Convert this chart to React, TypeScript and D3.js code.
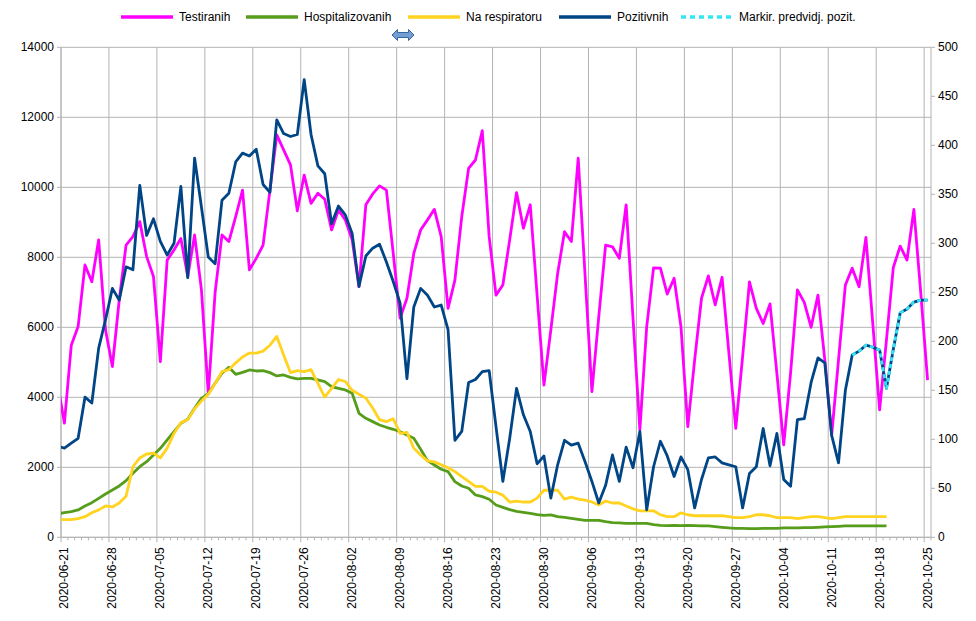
import React from 'react';
import * as d3 from 'd3';

// ---- DATA ----
// first value of each series belongs to 2020-06-20 (clipped at the left edge of the plot)
const seriesStart = '2020-06-20';
const firstCategory = '2020-06-21';
const lastCategory = '2020-10-25';

const xTickLabels = [
  '2020-06-21', '2020-06-28', '2020-07-05', '2020-07-12', '2020-07-19', '2020-07-26',
  '2020-08-02', '2020-08-09', '2020-08-16', '2020-08-23', '2020-08-30', '2020-09-06',
  '2020-09-13', '2020-09-20', '2020-09-27', '2020-10-04', '2020-10-11', '2020-10-18',
  '2020-10-25',
];

const leftTicks = [0, 2000, 4000, 6000, 8000, 10000, 12000, 14000];
const rightTicks = [0, 50, 100, 150, 200, 250, 300, 350, 400, 450, 500];

// left axis
const testiranih = [
  4400, 3260, 5490, 6020, 7780, 7300, 8500, 5920, 4880, 6780,
  8350, 8590, 9020, 8020, 7450, 5020, 7920, 8210, 8540, 7450,
  8640, 7070, 4110, 7000, 8640, 8450, 9160, 9920, 7640, 7970,
  8350, 9920, 11500, 11070, 10640, 9330, 10350, 9540, 9830, 9660,
  8780, 9350, 9070, 8500, 7160, 9500, 9810, 10040, 9920, 8110,
  6260, 6830, 8110, 8780, 9070, 9370, 8590, 6540, 7350, 9160,
  10540, 10780, 11620, 8590, 6920, 7210, 8500, 9850, 8830, 9500,
  6920, 4350, 5920, 7540, 8730, 8450, 10830, 7500, 4160, 6300,
  8350, 8300, 7970, 9500, 6260, 3070, 6020, 7700, 7690, 6950,
  7400, 6020, 3160, 5070, 6830, 7470, 6640, 7430, 5260, 3110,
  5160, 7300, 6540, 6110, 6670, 4690, 2640, 4690, 7070, 6710,
  6000, 6920, 5070, 2920, 5070, 7210, 7690, 7160, 8570, 6110,
  3640, 5640, 7710, 8320, 7920, 9370, 7000, 4490,
];

// left axis
const hospitalizovanih = [
  667, 705, 733, 781, 895, 990, 1114, 1238, 1352, 1467,
  1619, 1829, 2019, 2162, 2352, 2543, 2781, 3019, 3257, 3371,
  3686, 3971, 4105, 4400, 4686, 4857, 4657, 4714, 4781, 4752,
  4762, 4705, 4610, 4638, 4571, 4524, 4543, 4543, 4495, 4448,
  4305, 4257, 4210, 4114, 3543, 3400, 3305, 3210, 3143, 3086,
  3019, 2924, 2829, 2514, 2190, 2067, 1943, 1876, 1590, 1467,
  1400, 1210, 1162, 1086, 924, 857, 790, 743, 714, 686,
  648, 629, 638, 590, 571, 543, 514, 486, 486, 486,
  448, 419, 410, 400, 400, 400, 400, 362, 343, 333,
  343, 333, 343, 333, 324, 324, 305, 286, 267, 257,
  257, 248, 248, 257, 257, 257, 267, 267, 267, 276,
  276, 286, 295, 305, 314, 324, 324, 324, 324, 324,
  324, 324,
];

// right axis
const naRespiratoru = [
  18, 18, 18, 19, 21, 25, 28, 32, 31, 35,
  42, 72, 81, 85, 86, 81, 91, 106, 117, 120,
  131, 139, 146, 157, 169, 171, 178, 184, 188, 188,
  190, 196, 205, 186, 168, 170, 169, 171, 157, 143,
  152, 161, 159, 150, 146, 142, 132, 120, 118, 121,
  106, 107, 91, 84, 78, 77, 74, 71, 67, 62,
  57, 52, 52, 47, 46, 43, 36, 37, 36, 36,
  40, 48, 48, 48, 39, 41, 39, 38, 36, 33,
  37, 35, 35, 32, 29, 27, 27, 27, 23, 21,
  21, 25, 23, 22, 22, 22, 22, 22, 21, 20,
  20, 21, 23, 23, 22, 20, 20, 20, 19, 20,
  21, 21, 20, 19, 20, 21, 21, 21, 21, 21,
  21, 21,
];

// right axis
const pozitivnih = [
  93, 91, 96, 101, 143, 137, 193, 222, 254, 242,
  276, 273, 359, 308, 325, 302, 288, 300, 358, 265,
  387, 337, 286, 279, 344, 351, 383, 392, 389, 396,
  360, 352, 426, 412, 409, 411, 467, 411, 379, 371,
  320, 338, 329, 310, 256, 287, 295, 299, 281, 261,
  239, 162, 235, 254, 247, 235, 237, 212, 99, 108,
  158, 161, 169, 170, 113, 57, 101, 152, 125, 108,
  75, 83, 40, 74, 99, 94, 96, 77, 57, 35,
  53, 84, 57, 92, 71, 108, 28, 72, 98, 83,
  62, 82, 69, 30, 59, 81, 82, 76, 74, 72,
  30, 65, 72, 111, 73, 106, 59, 52, 120, 121,
  158, 183, 178, 104, 76, 150, 186, 190, 196, 194,
  191, 152, 192, 229, 233, 240, 242, 242,
];

// right axis, starts 2020-10-14
const markirStart = '2020-10-14';
const markirPredvidj = [186, 190, 196, 194, 191, 152, 192, 229, 233, 240, 242, 242];

// ---- LAYOUT ----
const W = 976;
const H = 621;
const PL = 61;
const PR = 931;
const PT = 47.3;
const PB = 537.3;
const FONT = '"Liberation Sans", Arial, sans-serif';
const GRID = '#b3b3b3';

const COLORS = {
  testiranih: '#ff00ff',
  hosp: '#579d1c',
  resp: '#ffd320',
  poz: '#004586',
  markir: '#33e6f5',
};

const legendItems = [
  { label: 'Testiranih', color: COLORS.testiranih, x: 121, dash: '' },
  { label: 'Hospitalizovanih', color: COLORS.hosp, x: 246, dash: '' },
  { label: 'Na respiratoru', color: COLORS.resp, x: 408, dash: '' },
  { label: 'Pozitivnih', color: COLORS.poz, x: 559, dash: '' },
  { label: 'Markir. predvidj. pozit.', color: COLORS.markir, x: 681, dash: '5 4' },
];

export default function App() {
  const parse = d3.timeParse('%Y-%m-%d');
  const d0 = parse(firstCategory)!;
  const dEnd = parse(lastCategory)!;
  const nCat = d3.timeDay.count(d0, dEnd) + 1;
  const offset = (s: string) => d3.timeDay.count(d0, parse(s)!);

  const x = d3.scaleLinear().domain([0, nCat]).range([PL, PR]);
  const yL = d3.scaleLinear().domain([0, 14000]).range([PB, PT]);
  const yR = d3.scaleLinear().domain([0, 500]).range([PB, PT]);

  const mkLine = (startStr: string, y: d3.ScaleLinear<number, number>) => {
    const s = offset(startStr);
    return d3
      .line<number>()
      .x((_, k) => x(s + k + 0.5))
      .y((d) => y(d))
      .curve(d3.curveLinear);
  };

  const dayTicks = d3.range(0, nCat + 1);
  const weekTicks = xTickLabels.map((l) => offset(l));

  return (
    <svg
      width={W}
      height={H}
      viewBox={`0 0 ${W} ${H}`}
      style={{ position: 'absolute', left: 0, top: 0, background: '#fff', fontFamily: FONT }}
    >
      <defs>
        <clipPath id="plotClip">
          <rect x={PL} y={0} width={PR - PL} height={H} />
        </clipPath>
      </defs>
      <rect x={0} y={0} width={W} height={H} fill="#fff" />

      {/* horizontal grid */}
      {leftTicks.map((t) => (
        <line key={'hg' + t} x1={PL} x2={PR} y1={yL(t)} y2={yL(t)} stroke={GRID} strokeWidth={1} />
      ))}
      {/* vertical grid */}
      {weekTicks.map((t) => (
        <line key={'vg' + t} x1={x(t)} x2={x(t)} y1={PT} y2={PB} stroke={GRID} strokeWidth={1} />
      ))}

      {/* axes */}
      <line x1={PL} x2={PL} y1={PT} y2={PB} stroke={GRID} strokeWidth={1} />
      <line x1={PR} x2={PR} y1={PT} y2={PB} stroke={GRID} strokeWidth={1} />
      <line x1={PL} x2={PR} y1={PB} y2={PB} stroke={GRID} strokeWidth={1} />

      {/* x ticks */}
      {dayTicks.map((t) => (
        <line
          key={'xt' + t}
          x1={x(t)}
          x2={x(t)}
          y1={PB}
          y2={PB + (weekTicks.includes(t) ? 5 : 3)}
          stroke={GRID}
          strokeWidth={1}
        />
      ))}
      {/* left ticks */}
      {leftTicks.map((t) => (
        <g key={'lt' + t}>
          <line x1={PL - 4} x2={PL} y1={yL(t)} y2={yL(t)} stroke={GRID} strokeWidth={1} />
          <text x={PL - 7} y={yL(t)} textAnchor="end" dominantBaseline="central" fontSize={12} fill="#000">
            {t}
          </text>
        </g>
      ))}
      {/* right ticks */}
      {rightTicks.map((t) => (
        <g key={'rt' + t}>
          <line x1={PR} x2={PR + 4} y1={yR(t)} y2={yR(t)} stroke={GRID} strokeWidth={1} />
          <text x={PR + 7} y={yR(t)} textAnchor="start" dominantBaseline="central" fontSize={12} fill="#000">
            {t}
          </text>
        </g>
      ))}
      {/* x labels */}
      {xTickLabels.map((l) => {
        const cx = x(offset(l) + 0.5);
        const ty = PB + 10;
        return (
          <text
            key={'xl' + l}
            x={cx}
            y={ty}
            transform={`rotate(-90 ${cx} ${ty})`}
            textAnchor="end"
            dominantBaseline="central"
            fontSize={12}
            fill="#000"
          >
            {l}
          </text>
        );
      })}

      {/* series */}
      <g clipPath="url(#plotClip)" fill="none" strokeLinejoin="round" strokeLinecap="butt">
        <path d={mkLine(seriesStart, yL)(testiranih) || ''} stroke={COLORS.testiranih} strokeWidth={2.8} />
        <path d={mkLine(seriesStart, yL)(hospitalizovanih) || ''} stroke={COLORS.hosp} strokeWidth={2.8} />
        <path d={mkLine(seriesStart, yR)(naRespiratoru) || ''} stroke={COLORS.resp} strokeWidth={2.8} />
        <path d={mkLine(seriesStart, yR)(pozitivnih) || ''} stroke={COLORS.poz} strokeWidth={2.8} />
        <path
          d={mkLine(markirStart, yR)(markirPredvidj) || ''}
          stroke={COLORS.markir}
          strokeWidth={2.8}
          strokeDasharray="4 3"
        />
      </g>

      {/* legend */}
      {legendItems.map((it) => (
        <g key={it.label}>
          <line
            x1={it.x}
            x2={it.x + 52}
            y1={17}
            y2={17}
            stroke={it.color}
            strokeWidth={3.5}
            strokeDasharray={it.dash || undefined}
          />
          <text x={it.x + 58} y={17} dominantBaseline="central" fontSize={12} fill="#000">
            {it.label}
          </text>
        </g>
      ))}

      {/* small double arrow handle */}
      <path
        d="M392,35 L397.5,29.5 L397.5,32.5 L408.5,32.5 L408.5,29.5 L414,35 L408.5,40.5 L408.5,37.5 L397.5,37.5 L397.5,40.5 Z"
        fill="#729fcf"
        stroke="#3465a4"
        strokeWidth={1}
      />
    </svg>
  );
}
